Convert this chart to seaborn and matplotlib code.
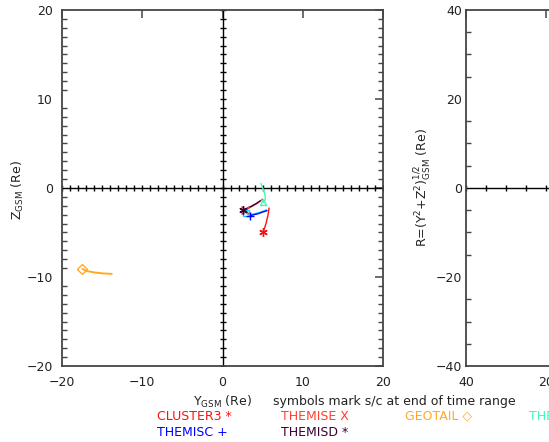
import numpy as np
import matplotlib
matplotlib.use('Agg')
import matplotlib.pyplot as plt
import seaborn as sns
import pandas as pd

# orbit tracks in the Y-Z GSM plane (Re), first point = start, last = end of time range
cluster3_y = [5.8, 5.7, 5.45, 5.1]
cluster3_z = [-2.25, -2.9, -3.9, -4.9]
themise_y = [5.0, 4.5, 3.9, 3.3, 2.8]
themise_z = [-1.25, -1.6, -1.95, -2.25, -2.5]
geotail_y = [-13.8, -14.85, -15.9, -16.9, -17.45]
geotail_z = [-9.65, -9.6, -9.5, -9.33, -9.1]
themisa_y = [4.8, 5.1, 5.3, 5.35, 5.1]
themisa_z = [0.5, -0.2, -0.8, -1.3, -1.6]
themisb_y = [5.5, 4.8, 4.0, 3.3, 2.95]
themisb_z = [-2.45, -2.7, -2.9, -3.0, -2.85]
themisc_y = [5.55, 5.0, 4.4, 3.9, 3.45]
themisc_z = [-2.55, -2.7, -2.9, -3.0, -3.1]
themisd_y = [4.7, 4.2, 3.6, 3.0, 2.5]
themisd_z = [-1.45, -1.75, -2.05, -2.3, -2.45]

craft = ['CLUSTER3', 'THEMISE', 'GEOTAIL', 'THEMISA', 'THEMISB', 'THEMISC', 'THEMISD']
tracks_y = [cluster3_y, themise_y, geotail_y, themisa_y, themisb_y, themisc_y, themisd_y]
tracks_z = [cluster3_z, themise_z, geotail_z, themisa_z, themisb_z, themisc_z, themisd_z]
colors = ['#ff1010', '#ff4030', '#ffaa22', '#33ffb0', '#00d8ff', '#0000ff', '#3c0032']
end_markers = [(6, 2, 0), 'x', 'D', '^', 's', '+', (6, 2, 0)]

legend_labels = ['CLUSTER3 *', 'THEMISE X', 'GEOTAIL \u25c7', 'THEMISA \u25b3', 'THEMISC +', 'THEMISD *']
legend_colors = ['#ff1010', '#ff4030', '#ffaa22', '#33ffb0', '#0000ff', '#3c0032']

# x tick labels of the right panel (only the left part fits in the picture)
r_xticks = [40, 20, 0, -20, -40]
r_xticklabels = ['40', '20', '', '', '']

W, H = 549, 442
axcol = '#454545'
txtcol = '#222222'

sns.set_theme(style='white', rc={'axes.edgecolor': axcol, 'axes.linewidth': 1.3,
                                 'xtick.color': axcol, 'ytick.color': axcol,
                                 'xtick.labelcolor': txtcol, 'ytick.labelcolor': txtcol})
plt.rcParams['font.family'] = ['DejaVu Sans']
plt.rcParams['mathtext.default'] = 'regular'
plt.rcParams['font.size'] = 9

fig = plt.figure(figsize=(W / 100, H / 100), dpi=100)
fig.patch.set_facecolor('white')


def rect(x0, y0, x1, y1):
    return [x0 / W, 1 - y1 / H, (x1 - x0) / W, (y1 - y0) / H]


def box_axes(ax, lim, major, minor, ypad):
    ax.set_xlim(lim)
    ax.set_ylim(-abs(lim[0]), abs(lim[0]))
    ticks = np.arange(-abs(lim[0]), abs(lim[0]) + 1, major)
    ax.set_xticks(ticks)
    ax.set_yticks(ticks)
    ax.set_yticks(np.arange(-abs(lim[0]), abs(lim[0]) + 1, minor), minor=True)
    ax.tick_params(which='major', direction='in', length=6, width=1.1,
                   top=True, right=True, labelsize=9)
    ax.tick_params(axis='x', which='major', pad=7)
    ax.tick_params(axis='y', which='major', pad=ypad)
    ax.tick_params(axis='y', which='minor', direction='in', length=3.5, width=1.0,
                   left=True, right=True)
    ax.tick_params(axis='x', which='minor', bottom=False, top=False)
    ax.set_xlabel('')
    ax.set_ylabel('')
    # crosshair axes through the origin with small ticks
    ax.axhline(0, color='black', lw=1.0, zorder=1)
    ax.axvline(0, color='black', lw=1.0, zorder=1)
    pts = np.arange(-abs(lim[0]), abs(lim[0]) + 1, minor)
    ax.plot(pts, np.zeros_like(pts), ls='none', marker='|', ms=4.5, mew=1.0, color='black', zorder=1)
    ax.plot(np.zeros_like(pts), pts, ls='none', marker='_', ms=4.5, mew=1.0, color='black', zorder=1)


ax = fig.add_axes(rect(62, 10, 383, 366))
box_axes(ax, (-20, 20), 10, 1, 6.5)

for name, ys, zs, c, m in zip(craft, tracks_y, tracks_z, colors, end_markers):
    df = pd.DataFrame({'y': ys, 'z': zs})
    lw = 1.4 if name == 'GEOTAIL' else 1.0
    sns.lineplot(data=df, x='y', y='z', sort=False, estimator=None, color=c, lw=lw, ax=ax, zorder=3)
    ms = 5 if m in ('D', '^', 's') else 6
    ax.plot(ys[-1], zs[-1], ls='none', marker=m, ms=ms, mew=1.0, mec=c, mfc='none', zorder=4)
ax.set_xlabel('')
ax.set_ylabel('')

ax2 = fig.add_axes(rect(466, 10, 787, 366))
box_axes(ax2, (40, -40), 20, 5, 3)
ax2.set_xticks(r_xticks, r_xticklabels)

# labels and legend text
fig.text(18 / W, 1 - 190 / H, r'Z$_{\mathrm{GSM}}$ (Re)', rotation=90, ha='center', va='center',
         color=txtcol, fontsize=9)
fig.text(423 / W, 1 - 187 / H, r'R=(Y$^{2}$+Z$^{2}$)$^{1/2}_{\mathrm{GSM}}$ (Re)', rotation=90,
         ha='center', va='center', color=txtcol, fontsize=9)
fig.text(193 / W, 1 - 402 / H, r'Y$_{\mathrm{GSM}}$ (Re)', ha='left', va='center', color=txtcol, fontsize=9)
fig.text(273 / W, 1 - 402 / H, 'symbols mark s/c at end of time range', ha='left', va='center',
         color=txtcol, fontsize=9)
for i, (lab, c) in enumerate(zip(legend_labels, legend_colors)):
    row, col = divmod(i, 4)
    fig.text((157 + 124 * col) / W, 1 - (416 + 17 * row) / H, lab, ha='left', va='center',
             color=c, fontsize=9)

fig.savefig('out.png', dpi=100)
